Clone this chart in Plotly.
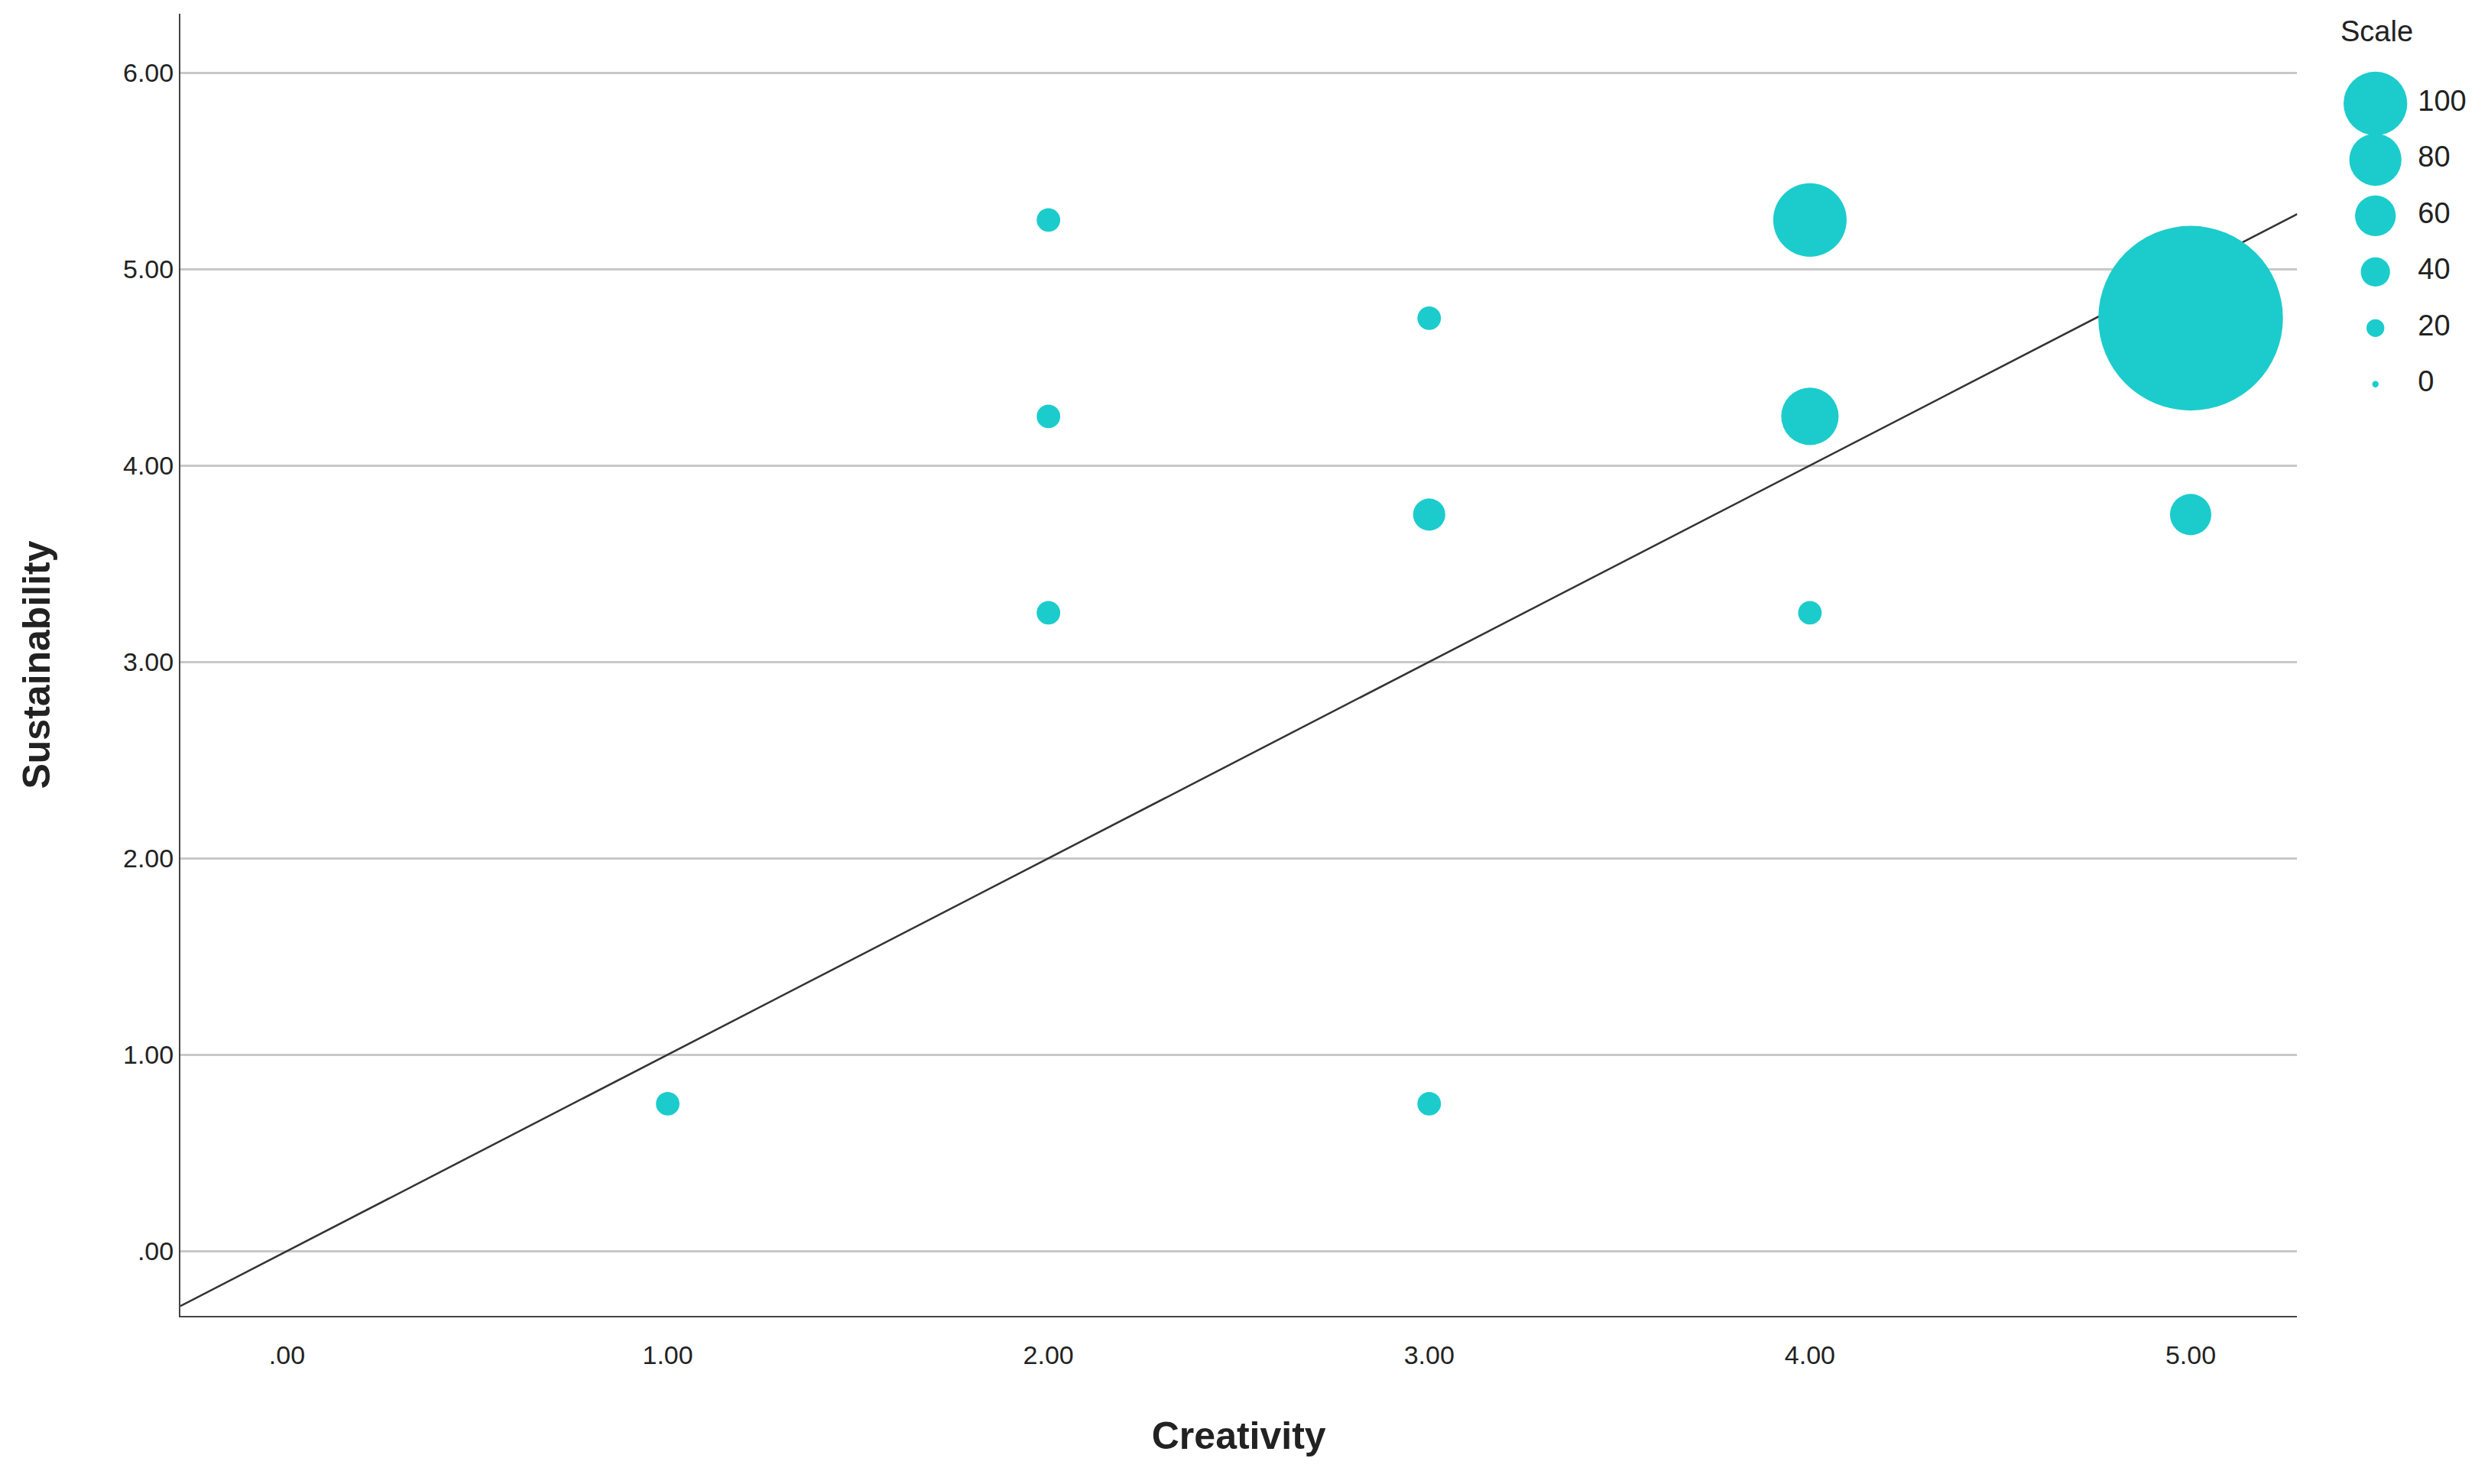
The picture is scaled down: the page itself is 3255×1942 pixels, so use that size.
import plotly.graph_objects as go

creativity = [1, 2, 2, 2, 3, 3, 3, 4, 4, 4, 5, 5]
sustainability = [0.75, 5.25, 4.25, 3.25, 4.75, 3.75, 0.75, 5.25, 4.25, 3.25, 4.75, 3.75]
scale = [30, 30, 30, 30, 30, 45, 30, 117, 89, 30, 311, 61]
legend_vals = [100, 80, 60, 40, 20, 0]
tick_vals = [0, 1, 2, 3, 4, 5, 6]
tick_text = [".00", "1.00", "2.00", "3.00", "4.00", "5.00", "6.00"]
fit_x = [-0.28, 5.28]

K = 2.083
def px(v):
    return (4 + 0.36 * v) * K

col = "#1ccccc"
font = "Liberation Sans, Arial, sans-serif"
fig = go.Figure()
fig.add_trace(go.Scatter(x=fit_x, y=fit_x, mode="lines", line=dict(color="#333333", width=2.5),
                         hoverinfo="skip", showlegend=False))
fig.add_trace(go.Scatter(x=creativity, y=sustainability, mode="markers",
                         marker=dict(size=[px(v) for v in scale], color=col, opacity=1, line=dict(width=0)),
                         showlegend=False))
fig.add_trace(go.Scatter(x=[0.5] * len(legend_vals), y=legend_vals, mode="markers",
                         marker=dict(size=[px(v) for v in legend_vals], color=col, opacity=1, line=dict(width=0)),
                         cliponaxis=False, xaxis="x2", yaxis="y2", showlegend=False))
fig.add_trace(go.Scatter(x=[1] * len(legend_vals), y=legend_vals, mode="text",
                         text=[" " + str(v) for v in legend_vals], textposition="middle right",
                         textfont=dict(size=38, color="#222222", family=font), cliponaxis=False,
                         xaxis="x2", yaxis="y2", showlegend=False))
fig.update_layout(
    width=3255, height=1942, plot_bgcolor="white", paper_bgcolor="white",
    margin=dict(l=228, r=20, t=10, b=228),
    font=dict(family=font, color="#222222"),
    xaxis=dict(domain=[0, 0.921], range=[-0.28, 5.28], tickvals=tick_vals[:6], ticktext=tick_text[:6],
               showgrid=False, zeroline=False, showline=True, linecolor="#444444", linewidth=2,
               ticks="", tickfont=dict(size=34), ticklabelstandoff=20,
               title=dict(text="<b>Creativity</b>", font=dict(size=50), standoff=70)),
    yaxis=dict(range=[-0.33, 6.3], tickvals=tick_vals, ticktext=tick_text,
               showgrid=True, gridcolor="#c8c8c8", gridwidth=3, zeroline=False,
               showline=True, linecolor="#444444", linewidth=2, ticks="", tickfont=dict(size=34),
               title=dict(text="<b>Sustainability</b>", font=dict(size=50), standoff=80)),
    xaxis2=dict(domain=[0.94, 0.97], range=[0, 1], visible=False, anchor="y2"),
    yaxis2=dict(domain=[0, 1], range=[-332, 132], visible=False, anchor="x2"),
    annotations=[dict(text="Scale", xref="paper", yref="paper", x=0.972, y=1.0, yanchor="top",
                      showarrow=False, font=dict(size=38, family=font, color="#222222"))],
)
fig.write_html("out.html")
